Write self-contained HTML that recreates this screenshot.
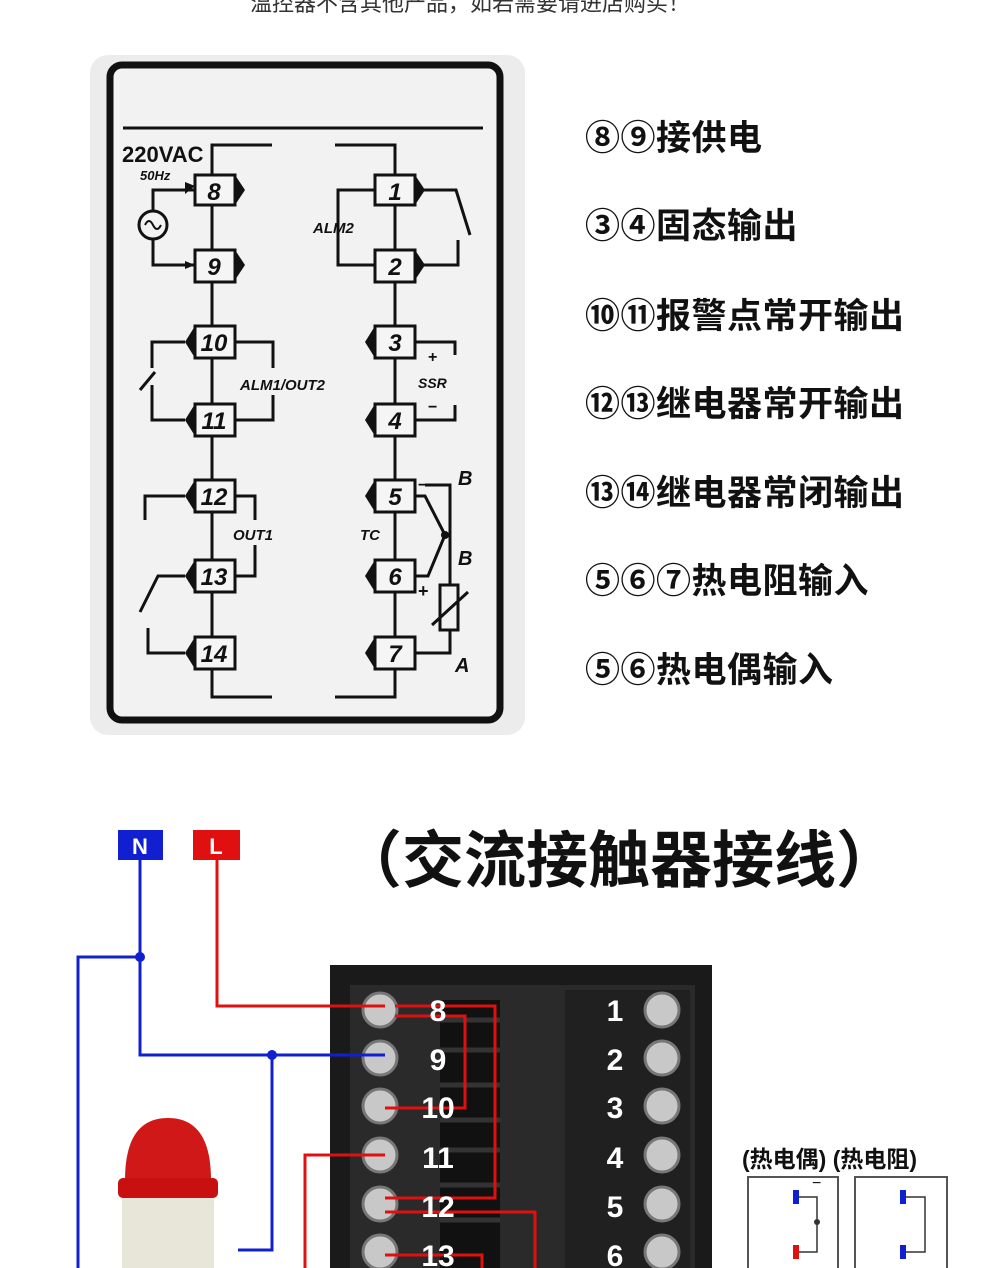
<!DOCTYPE html>
<html><head><meta charset="utf-8"><style>
body{margin:0;width:990px;height:1268px;background:#fff;overflow:hidden;position:relative;font-family:"Liberation Sans","Noto Sans CJK SC",sans-serif}
.t{position:absolute;left:585px;font-size:35px;font-weight:bold;color:#111;font-family:"Liberation Sans","Noto Sans CJK SC",sans-serif;letter-spacing:0.5px}
</style></head><body>
<div style="position:absolute;left:250px;top:-14px;font-size:22px;color:#333;font-family:'Noto Sans CJK SC',sans-serif">温控器不含其他产品，如若需要请进店购买！</div>
<svg width="990" height="1268" style="position:absolute;left:0;top:0" font-family="Liberation Sans, sans-serif">
<rect x="90" y="55" width="435" height="680" rx="18" fill="#ececec"/>
<rect x="110" y="65" width="390" height="655" rx="12" fill="#f2f2f2" stroke="#111" stroke-width="7"/>
<line x1="123" y1="128" x2="483" y2="128" stroke="#111" stroke-width="3"/>
<g stroke="#111" stroke-width="3" fill="none">
<polyline points="272,145 212,145 212,697 272,697"/>
<polyline points="335,145 395,145 395,697 335,697"/>
<circle cx="153" cy="225" r="14"/>
<polyline points="153,211 153,190 195,190"/><polyline points="153,239 153,265 195,265"/>
<polyline points="185,342 152,342 152,368"/><line x1="140" y1="390" x2="155" y2="372"/><polyline points="152,385 152,420 185,420"/>
<polyline points="235,342 273,342 273,368"/><polyline points="235,420 273,420 273,395"/>
<polyline points="185,496 145,496 145,520"/><polyline points="235,496 255,496 255,520"/><polyline points="235,576 255,576 255,545"/>
<polyline points="185,576 158,576 140,612"/><polyline points="185,653 148,653 148,628"/>
<polyline points="375,190 338,190 338,265 375,265"/>
<polyline points="415,190 456,190 470,235"/><polyline points="415,265 458,265 458,240"/>
<polyline points="415,342 455,342 455,355"/><polyline points="415,420 455,420 455,405"/>
<polyline points="415,496 425,496 445,535 428,576 415,576"/>
<polyline points="425,485 450,485 450,650"/>
<rect x="440" y="585" width="18" height="45" fill="#f2f2f2"/>
<line x1="432" y1="625" x2="468" y2="592"/>
<polyline points="415,653 450,653 450,630"/>
</g>
<g fill="#111">
<polygon points="235,175 245,190 235,205"/><polygon points="235,250 245,265 235,280"/>
<polygon points="195,326 185,342 195,358"/><polygon points="195,404 185,420 195,436"/>
<polygon points="195,480 185,496 195,512"/><polygon points="195,560 185,576 195,592"/><polygon points="195,637 185,653 195,669"/>
<polygon points="415,175 425,190 415,205"/><polygon points="415,250 425,265 415,280"/>
<polygon points="375,326 365,342 375,358"/><polygon points="375,404 365,420 375,436"/>
<polygon points="375,480 365,496 375,512"/><polygon points="375,560 365,576 375,592"/><polygon points="375,637 365,653 375,669"/>
<circle cx="445" cy="535" r="4"/>
<polygon points="195,186 185,182 185,194"/><polygon points="195,265 185,261 185,269"/>
</g>
<g fill="#f5f5f5" stroke="#111" stroke-width="3">
<rect x="195" y="175" width="40" height="30"/><rect x="195" y="250" width="40" height="32"/>
<rect x="195" y="326" width="40" height="32"/><rect x="195" y="404" width="40" height="32"/>
<rect x="195" y="480" width="40" height="32"/><rect x="195" y="560" width="40" height="32"/><rect x="195" y="637" width="40" height="32"/>
<rect x="375" y="175" width="40" height="30"/><rect x="375" y="250" width="40" height="32"/>
<rect x="375" y="326" width="40" height="32"/><rect x="375" y="404" width="40" height="32"/>
<rect x="375" y="480" width="40" height="32"/><rect x="375" y="560" width="40" height="32"/><rect x="375" y="637" width="40" height="32"/>
</g>
<path d="M145,225 q4,-8 8,0 q4,8 8,0" stroke="#111" stroke-width="2" fill="none"/>
<g font-weight="bold" font-style="italic" font-size="24" text-anchor="middle" fill="#111">
<text x="214" y="200">8</text><text x="214" y="275">9</text><text x="214" y="351">10</text><text x="214" y="429">11</text>
<text x="214" y="505">12</text><text x="214" y="585">13</text><text x="214" y="662">14</text>
<text x="395" y="200">1</text><text x="395" y="275">2</text><text x="395" y="351">3</text><text x="395" y="429">4</text>
<text x="395" y="505">5</text><text x="395" y="585">6</text><text x="395" y="662">7</text>
</g>
<g font-weight="bold" fill="#111">
<text x="122" y="162" font-size="22">220VAC</text>
<text x="140" y="180" font-size="13" font-style="italic">50Hz</text>
<text x="313" y="233" font-size="15" font-style="italic">ALM2</text>
<text x="240" y="390" font-size="15" font-style="italic">ALM1/OUT2</text>
<text x="233" y="540" font-size="15" font-style="italic">OUT1</text>
<text x="360" y="540" font-size="15" font-style="italic">TC</text>
<text x="418" y="388" font-size="14" font-style="italic">SSR</text>
<text x="428" y="362" font-size="16">+</text><text x="428" y="412" font-size="16">−</text>
<text x="418" y="490" font-size="16">−</text><text x="418" y="597" font-size="18">+</text>
<text x="458" y="485" font-size="20" font-style="italic">B</text><text x="458" y="565" font-size="20" font-style="italic">B</text>
<text x="455" y="672" font-size="20" font-style="italic">A</text>
</g>
<rect x="118" y="830" width="45" height="30" fill="#1020d0"/><text x="140" y="854" fill="#fff" font-size="22" font-weight="bold" text-anchor="middle">N</text>
<rect x="193" y="830" width="47" height="30" fill="#e01010"/><text x="216" y="854" fill="#fff" font-size="22" font-weight="bold" text-anchor="middle">L</text>
<rect x="330" y="965" width="382" height="310" fill="#1a1a1a"/>
<rect x="350" y="985" width="345" height="290" fill="#2a2a2a"/>
<rect x="565" y="990" width="125" height="280" fill="#202020"/>
<g fill="#111"><rect x="440" y="1000" width="60" height="270"/></g>
<g stroke="#333" stroke-width="5">
<line x1="440" y1="1020" x2="500" y2="1020"/><line x1="440" y1="1050" x2="500" y2="1050"/><line x1="440" y1="1085" x2="500" y2="1085"/><line x1="440" y1="1120" x2="500" y2="1120"/><line x1="440" y1="1150" x2="500" y2="1150"/><line x1="440" y1="1185" x2="500" y2="1185"/><line x1="440" y1="1220" x2="500" y2="1220"/>
</g>
<g fill="#c8c8c8" stroke="#777" stroke-width="3">
<circle cx="380" cy="1010" r="17"/><circle cx="380" cy="1058" r="17"/><circle cx="380" cy="1106" r="17"/><circle cx="380" cy="1155" r="17"/><circle cx="380" cy="1204" r="17"/><circle cx="380" cy="1252" r="17"/>
<circle cx="662" cy="1010" r="17"/><circle cx="662" cy="1058" r="17"/><circle cx="662" cy="1106" r="17"/><circle cx="662" cy="1155" r="17"/><circle cx="662" cy="1204" r="17"/><circle cx="662" cy="1252" r="17"/>
</g>
<g fill="none" stroke-width="3">
<polyline stroke="#1020d0" points="140,860 140,1055 385,1055"/>
<polyline stroke="#1020d0" points="140,957 78,957 78,1268"/>
<polyline stroke="#1020d0" points="272,1055 272,1250 238,1250"/>
<polyline stroke="#e01010" points="217,860 217,1006 385,1006"/>
<polyline stroke="#e01010" points="395,1006 495,1006 495,1198 385,1198"/>
<polyline stroke="#e01010" points="395,1016 465,1016 465,1108 385,1108"/>
<polyline stroke="#e01010" points="385,1155 305,1155 305,1268"/>
<polyline stroke="#e01010" points="385,1212 535,1212 535,1268"/>
<polyline stroke="#e01010" points="385,1255 482,1255 482,1268"/>
</g>
<g fill="#fff" font-size="30" font-weight="bold" text-anchor="middle">
<text x="438" y="1021">8</text><text x="438" y="1070">9</text><text x="438" y="1118">10</text><text x="438" y="1168">11</text><text x="438" y="1217">12</text><text x="438" y="1266">13</text>
<text x="615" y="1021">1</text><text x="615" y="1070">2</text><text x="615" y="1118">3</text><text x="615" y="1168">4</text><text x="615" y="1217">5</text><text x="615" y="1266">6</text>
</g>
<g fill="#1020d0"><circle cx="140" cy="957" r="5"/><circle cx="272" cy="1055" r="5"/></g>
<path d="M125,1180 Q125,1118 168,1118 Q211,1118 211,1180 Z" fill="#d01818"/>
<rect x="118" y="1178" width="100" height="20" rx="5" fill="#c81010"/>
<rect x="122" y="1198" width="92" height="70" fill="#e8e6d8"/>
<text x="742" y="1167" font-size="23" font-weight="bold" fill="#111" font-family="Liberation Sans, Noto Sans CJK SC, sans-serif">(热电偶) (热电阻)</text>
<rect x="748" y="1177" width="90" height="95" fill="#fff" stroke="#555" stroke-width="2"/>
<rect x="855" y="1177" width="92" height="95" fill="#fff" stroke="#555" stroke-width="2"/>
<rect x="793" y="1190" width="6" height="14" fill="#1020d0"/><rect x="793" y="1245" width="6" height="14" fill="#e01010"/>
<rect x="900" y="1190" width="6" height="14" fill="#1020d0"/><rect x="900" y="1245" width="6" height="14" fill="#1020d0"/>
<polyline points="799,1197 817,1197 817,1252 799,1252" fill="none" stroke="#333" stroke-width="1.5"/>
<polyline points="906,1197 925,1197 925,1252 906,1252" fill="none" stroke="#333" stroke-width="1.5"/>
<circle cx="817" cy="1222" r="3" fill="#333"/>
<text x="812" y="1188" font-size="16" fill="#111">−</text>
</svg>
<div class="t" style="top:110px">⑧⑨接供电</div>
<div class="t" style="top:198px">③④固态输出</div>
<div class="t" style="top:288px">⑩⑪报警点常开输出</div>
<div class="t" style="top:376px">⑫⑬继电器常开输出</div>
<div class="t" style="top:465px">⑬⑭继电器常闭输出</div>
<div class="t" style="top:553px">⑤⑥⑦热电阻输入</div>
<div class="t" style="top:642px">⑤⑥热电偶输入</div>
<div style="position:absolute;left:340px;top:810px;font-size:62px;font-weight:bold;color:#111;font-family:'Noto Sans CJK SC',sans-serif">（交流接触器接线）</div>
</body></html>
